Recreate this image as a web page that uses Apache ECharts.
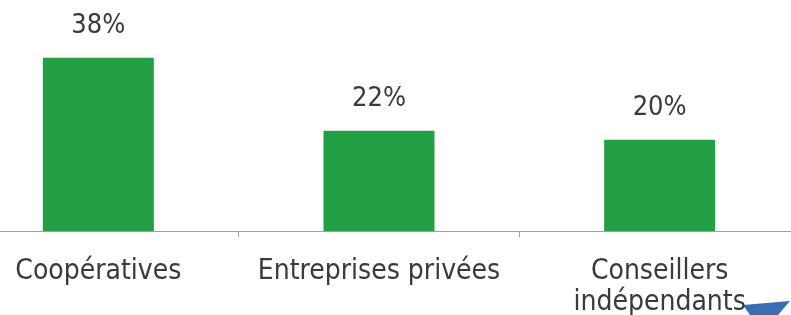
<!DOCTYPE html>
<html>
<head>
<meta charset="utf-8">
<script src="https://cdn.jsdelivr.net/npm/echarts@6/dist/echarts.min.js"></script>
<style>
  html, body { margin: 0; padding: 0; background: #fff; overflow: hidden; width: 791px; height: 315px; }
  #chart { position: absolute; left: -42px; top: 0; width: 842px; height: 315px; }
</style>
</head>
<body>
<div id="chart"></div>
<script>
  // données du graphique
  var categories = ['Coopératives', 'Entreprises privées', 'Conseillers\nindépendants'];
  var values = [38, 22, 20];

  var chart = echarts.init(document.getElementById('chart'));

  var option = {
    animation: false,
    grid: {left: 0, right: 0, top: 3, bottom: 84, outerBoundsMode: 'none', containLabel: false},
    xAxis: {
      type: 'category',
      data: categories,
      axisLine: {lineStyle: {color: '#a0a0a0', width: 1}},
      axisTick: {show: true, interval: 0, length: 6, lineStyle: {color: '#a0a0a0'}},
      axisLabel: {
        interval: 0,
        color: '#353b40',
        fontFamily: 'DejaVu Sans Condensed',
        fontSize: 28,
        margin: 25,
        lineHeight: 31
      }
    },
    yAxis: {
      type: 'value',
      min: 0,
      max: 50,
      show: false,
      splitLine: {show: false}
    },
    series: [
      {
        type: 'bar',
        data: values,
        barWidth: 111,
        itemStyle: {color: '#22a043'},
        label: {
          show: true,
          position: 'top',
          distance: 18,
          color: '#353b40',
          fontFamily: 'DejaVu Sans Condensed',
          fontSize: 27,
          formatter: function (p) {
            return p.value + '%';
          }
        }
      }
    ],
    graphic: [
      {
        type: 'polygon',
        shape: {points: [[785, 305], [832, 301], [820, 315], [792, 315]]},
        style: {fill: '#3b6db3'}
      }
    ]
  };

  chart.setOption(option);
</script>
</body>
</html>
